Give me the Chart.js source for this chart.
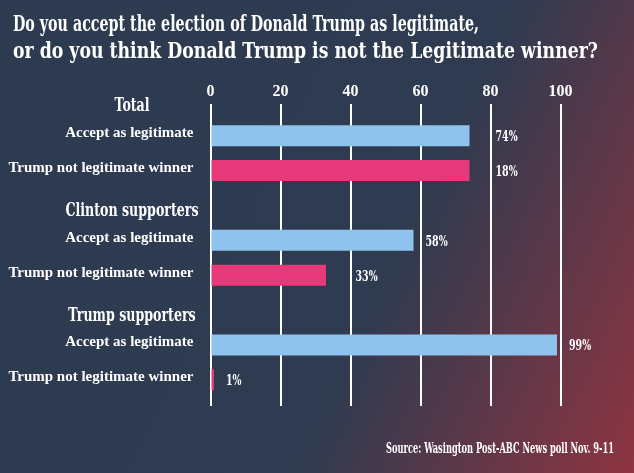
<!DOCTYPE html>
<html><head><meta charset="utf-8">
<script src="https://cdn.jsdelivr.net/npm/chart.js@4"></script>
<style>
html,body{margin:0;padding:0;width:634px;height:473px;overflow:hidden;
background:linear-gradient(115deg,#2d3b50 0%,#2e3b50 60%,#8f3441 100%);}
#wrap{position:relative;width:634px;height:473px;}
</style></head><body>
<div id="wrap"><canvas id="c" width="634" height="473"></canvas></div>
<script>
// ---- data ----
const titleLines = ['Do you accept the election of Donald Trump as legitimate,',
                    'or do you think Donald Trump is not the Legitimate winner?'];
const groups = ['Total', 'Clinton supporters', 'Trump supporters'];
const answers = ['Accept as legitimate', 'Trump not legitimate winner'];
const acceptValues = [74, 58, 99];        // bar lengths as drawn
const notLegitValues = [74, 33, 1];       // bar lengths as drawn
const acceptLabels = ['74%', '58%', '99%'];
const notLegitLabels = ['18%', '33%', '1%'];
const xTicks = [0, 20, 40, 60, 80, 100];
const sourceText = 'Source: Wasington Post-ABC News poll Nov. 9-11';

// ---- style ----
const FONT = "'Liberation Serif', 'Times New Roman', serif";
const HEAVY = "'DejaVu Serif', 'Liberation Serif', serif";
Chart.defaults.font.family = FONT;
Chart.defaults.font.weight = 'bold';
Chart.defaults.color = '#ffffff';

const valueLabels = [acceptLabels, notLegitLabels];

function squash(c, text, x, y, ratio) {
  c.fillText(text, x, y, c.measureText(text).width * ratio);
}

const textPlugin = {
  id: 'texts',
  afterDraw(chart) {
    const c = chart.ctx, ys = chart.scales.y, xs = chart.scales.x;
    c.save();
    c.fillStyle = '#ffffff';
    c.textBaseline = 'alphabetic';
    // title
    c.font = 'bold 22px ' + HEAVY;
    c.textAlign = 'left';
    c.fillText(titleLines[0], 13, 31, 466);
    c.fillText(titleLines[1], 13, 58, 585);
    // group headers
    c.font = 'bold 18px ' + HEAVY;
    c.textAlign = 'center';
    groups.forEach((g, i) => {
      squash(c, g, 132, ys.getPixelForValue(3 * i) + 10.5, 0.70);
    });
    // value labels (nudged past a grid line they would cross)
    c.font = 'bold 15px ' + HEAVY;
    c.textAlign = 'left';
    const lines = xTicks.map(v => xs.getPixelForValue(v));
    chart.data.datasets.forEach((ds, di) => {
      chart.getDatasetMeta(di).data.forEach((bar, i) => {
        const t = valueLabels[di][i];
        const w = c.measureText(t).width * 0.63;
        let x = bar.x + 12;
        lines.forEach(lx => { if (lx > x - 2 && lx < x + w + 2) x = lx + 5; });
        c.fillText(t, x, bar.y + 5.5, w);
      });
    });
    // source
    c.font = 'bold 14px ' + HEAVY;
    c.textAlign = 'right';
    c.fillText(sourceText, 614, 453, 228);
    c.restore();
  }
};

new Chart(document.getElementById('c'), {
  type: 'bar',
  data: {
    datasets: [
      { label: answers[0], data: acceptValues.map((v, g) => ({ x: v, y: 3 * g + 1 })),
        backgroundColor: '#90c2ee' },
      { label: answers[1], data: notLegitValues.map((v, g) => ({ x: v, y: 3 * g + 2 })),
        backgroundColor: '#e5397a' }
    ]
  },
  options: {
    indexAxis: 'y',
    responsive: false,
    animation: false,
    layout: { padding: { top: 82, right: 73.5, bottom: 67, left: 0 } },
    datasets: { bar: { grouped: false, maxBarThickness: 21, borderWidth: 0 } },
    plugins: { legend: { display: false }, tooltip: { enabled: false } },
    scales: {
      x: {
        type: 'linear', position: 'top', min: 0, max: 100, offset: false,
        afterBuildTicks: s => { s.ticks = xTicks.map(v => ({ value: v })); },
        afterFit: s => { s.height = 22; },
        grid: { color: '#ffffff', lineWidth: 2, drawTicks: false, offset: false },
        border: { display: false },
        ticks: { padding: 3, color: '#ffffff', font: { size: 16, weight: 'bold' } }
      },
      y: {
        type: 'linear', reverse: true, min: 0.09, max: 8.75, offset: false,
        afterBuildTicks: s => {
          const t = [];
          groups.forEach((g, i) => { t.push({ value: 3 * i + 1 - 0.07 }, { value: 3 * i + 2 - 0.07 }); });
          s.ticks = t;
        },
        afterFit: s => { s.width = 210.5; },
        grid: { display: false, offset: false },
        border: { display: false },
        ticks: { padding: 9, color: '#ffffff', font: { size: 15, weight: 'bold' },
                 callback: v => answers[(Math.round(v) % 3) - 1] }
      }
    }
  },
  plugins: [textPlugin]
});
</script>
</body></html>
